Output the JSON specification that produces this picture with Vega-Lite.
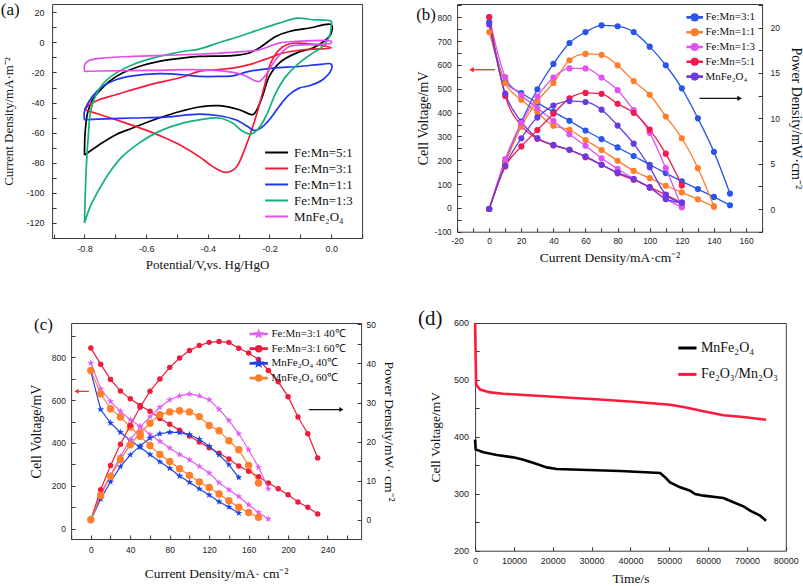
{
"$schema":"https://vega.github.io/schema/vega-lite/v6.json",
"background":"white",
"padding":{"left":0.1,"top":0,"right":0,"bottom":0},
"spacing":319,
"bounds":"flush",
"resolve":{"scale":{"color":"independent","shape":"independent"},"legend":{"color":"independent","shape":"independent"}},
"config":{
 "view":{"stroke":"#3a3a3a","strokeWidth":1},
 "axis":{"domain":false,"grid":false,"ticks":true,"tickColor":"#333","tickSize":-4,"tickWidth":1,"labelFont":"Liberation Sans","labelColor":"#222","titleFont":"Liberation Serif","titleFontWeight":"normal","titleColor":"#111","labelFlush":false,"labelOverlap":false},
 "legend":{"labelFont":"Liberation Serif","labelColor":"#111","padding":0,"rowPadding":0,"labelLimit":300}
},
"datasets":{
"a":[
{"s":"Fe:Mn=5:1","i":1,"E":-0.8,"j":-75},{"s":"Fe:Mn=5:1","i":2,"E":-0.752,"j":-68.1},{"s":"Fe:Mn=5:1","i":3,"E":-0.698,"j":-61.4},{"s":"Fe:Mn=5:1","i":4,"E":-0.644,"j":-57},{"s":"Fe:Mn=5:1","i":5,"E":-0.59,"j":-52.6},{"s":"Fe:Mn=5:1","i":6,"E":-0.536,"j":-48.8},{"s":"Fe:Mn=5:1","i":7,"E":-0.482,"j":-45.5},{"s":"Fe:Mn=5:1","i":8,"E":-0.428,"j":-43},{"s":"Fe:Mn=5:1","i":9,"E":-0.363,"j":-42.1},{"s":"Fe:Mn=5:1","i":10,"E":-0.298,"j":-44.8},{"s":"Fe:Mn=5:1","i":11,"E":-0.255,"j":-48.1},{"s":"Fe:Mn=5:1","i":12,"E":-0.244,"j":-45.9},{"s":"Fe:Mn=5:1","i":13,"E":-0.223,"j":-35.9},{"s":"Fe:Mn=5:1","i":14,"E":-0.201,"j":-22.6},{"s":"Fe:Mn=5:1","i":15,"E":-0.169,"j":-13.7},{"s":"Fe:Mn=5:1","i":16,"E":-0.114,"j":-7.1},{"s":"Fe:Mn=5:1","i":17,"E":-0.06,"j":-3.7},{"s":"Fe:Mn=5:1","i":18,"E":-0.017,"j":1.8},{"s":"Fe:Mn=5:1","i":19,"E":0,"j":6.2},{"s":"Fe:Mn=5:1","i":20,"E":0,"j":11.8},{"s":"Fe:Mn=5:1","i":21,"E":-0.071,"j":9.6},{"s":"Fe:Mn=5:1","i":22,"E":-0.136,"j":7.3},{"s":"Fe:Mn=5:1","i":23,"E":-0.18,"j":4},{"s":"Fe:Mn=5:1","i":24,"E":-0.234,"j":-3.7},{"s":"Fe:Mn=5:1","i":25,"E":-0.266,"j":-7},{"s":"Fe:Mn=5:1","i":26,"E":-0.32,"j":-8.8},{"s":"Fe:Mn=5:1","i":27,"E":-0.428,"j":-9.3},{"s":"Fe:Mn=5:1","i":28,"E":-0.482,"j":-10.4},{"s":"Fe:Mn=5:1","i":29,"E":-0.558,"j":-12.6},{"s":"Fe:Mn=5:1","i":30,"E":-0.623,"j":-16},{"s":"Fe:Mn=5:1","i":31,"E":-0.677,"j":-20.4},{"s":"Fe:Mn=5:1","i":32,"E":-0.72,"j":-26},{"s":"Fe:Mn=5:1","i":33,"E":-0.753,"j":-32.6},{"s":"Fe:Mn=5:1","i":34,"E":-0.774,"j":-38.1},{"s":"Fe:Mn=5:1","i":35,"E":-0.79,"j":-47},{"s":"Fe:Mn=5:1","i":36,"E":-0.798,"j":-60.3},{"s":"Fe:Mn=5:1","i":37,"E":-0.8,"j":-75},
{"s":"Fe:Mn=3:1","i":1,"E":-0.8,"j":-44.8},{"s":"Fe:Mn=3:1","i":2,"E":-0.75,"j":-48},{"s":"Fe:Mn=3:1","i":3,"E":-0.698,"j":-51.5},{"s":"Fe:Mn=3:1","i":4,"E":-0.644,"j":-55.2},{"s":"Fe:Mn=3:1","i":5,"E":-0.59,"j":-59.2},{"s":"Fe:Mn=3:1","i":6,"E":-0.536,"j":-63.8},{"s":"Fe:Mn=3:1","i":7,"E":-0.482,"j":-69.2},{"s":"Fe:Mn=3:1","i":8,"E":-0.428,"j":-76},{"s":"Fe:Mn=3:1","i":9,"E":-0.385,"j":-82.5},{"s":"Fe:Mn=3:1","i":10,"E":-0.342,"j":-86.5},{"s":"Fe:Mn=3:1","i":11,"E":-0.31,"j":-83.6},{"s":"Fe:Mn=3:1","i":12,"E":-0.277,"j":-69.2},{"s":"Fe:Mn=3:1","i":13,"E":-0.244,"j":-49.3},{"s":"Fe:Mn=3:1","i":14,"E":-0.217,"j":-29.3},{"s":"Fe:Mn=3:1","i":15,"E":-0.196,"j":-13.7},{"s":"Fe:Mn=3:1","i":16,"E":-0.169,"j":-4.9},{"s":"Fe:Mn=3:1","i":17,"E":-0.136,"j":-0.9},{"s":"Fe:Mn=3:1","i":18,"E":-0.104,"j":-0.4},{"s":"Fe:Mn=3:1","i":19,"E":-0.05,"j":-1.5},{"s":"Fe:Mn=3:1","i":20,"E":0,"j":-3.7},{"s":"Fe:Mn=3:1","i":21,"E":-0.06,"j":-4.5},{"s":"Fe:Mn=3:1","i":22,"E":-0.104,"j":-5.2},{"s":"Fe:Mn=3:1","i":23,"E":-0.158,"j":-7.1},{"s":"Fe:Mn=3:1","i":24,"E":-0.212,"j":-11.1},{"s":"Fe:Mn=3:1","i":25,"E":-0.266,"j":-14.8},{"s":"Fe:Mn=3:1","i":26,"E":-0.32,"j":-17.1},{"s":"Fe:Mn=3:1","i":27,"E":-0.374,"j":-18.2},{"s":"Fe:Mn=3:1","i":28,"E":-0.428,"j":-19.3},{"s":"Fe:Mn=3:1","i":29,"E":-0.482,"j":-23},{"s":"Fe:Mn=3:1","i":30,"E":-0.59,"j":-28.2},{"s":"Fe:Mn=3:1","i":31,"E":-0.698,"j":-34.8},{"s":"Fe:Mn=3:1","i":32,"E":-0.753,"j":-38.1},{"s":"Fe:Mn=3:1","i":33,"E":-0.785,"j":-41.5},{"s":"Fe:Mn=3:1","i":34,"E":-0.8,"j":-44.8},
{"s":"Fe:Mn=1:1","i":1,"E":-0.8,"j":-51.5},{"s":"Fe:Mn=1:1","i":2,"E":-0.753,"j":-51},{"s":"Fe:Mn=1:1","i":3,"E":-0.644,"j":-50.3},{"s":"Fe:Mn=1:1","i":4,"E":-0.536,"j":-49.7},{"s":"Fe:Mn=1:1","i":5,"E":-0.428,"j":-47.7},{"s":"Fe:Mn=1:1","i":6,"E":-0.363,"j":-48.8},{"s":"Fe:Mn=1:1","i":7,"E":-0.31,"j":-51.5},{"s":"Fe:Mn=1:1","i":8,"E":-0.271,"j":-55.9},{"s":"Fe:Mn=1:1","i":9,"E":-0.25,"j":-58.6},{"s":"Fe:Mn=1:1","i":10,"E":-0.228,"j":-57},{"s":"Fe:Mn=1:1","i":11,"E":-0.201,"j":-51.5},{"s":"Fe:Mn=1:1","i":12,"E":-0.169,"j":-42.6},{"s":"Fe:Mn=1:1","i":13,"E":-0.136,"j":-34.8},{"s":"Fe:Mn=1:1","i":14,"E":-0.104,"j":-30.4},{"s":"Fe:Mn=1:1","i":15,"E":-0.071,"j":-28.8},{"s":"Fe:Mn=1:1","i":16,"E":-0.028,"j":-24.8},{"s":"Fe:Mn=1:1","i":17,"E":0,"j":-18.2},{"s":"Fe:Mn=1:1","i":18,"E":0,"j":-14.4},{"s":"Fe:Mn=1:1","i":19,"E":-0.028,"j":-14.4},{"s":"Fe:Mn=1:1","i":20,"E":-0.104,"j":-16},{"s":"Fe:Mn=1:1","i":21,"E":-0.19,"j":-17.1},{"s":"Fe:Mn=1:1","i":22,"E":-0.266,"j":-19.3},{"s":"Fe:Mn=1:1","i":23,"E":-0.32,"j":-22.2},{"s":"Fe:Mn=1:1","i":24,"E":-0.363,"j":-22.6},{"s":"Fe:Mn=1:1","i":25,"E":-0.428,"j":-22.6},{"s":"Fe:Mn=1:1","i":26,"E":-0.482,"j":-21.5},{"s":"Fe:Mn=1:1","i":27,"E":-0.558,"j":-20.8},{"s":"Fe:Mn=1:1","i":28,"E":-0.644,"j":-22.2},{"s":"Fe:Mn=1:1","i":29,"E":-0.698,"j":-24.8},{"s":"Fe:Mn=1:1","i":30,"E":-0.742,"j":-29.3},{"s":"Fe:Mn=1:1","i":31,"E":-0.774,"j":-35.9},{"s":"Fe:Mn=1:1","i":32,"E":-0.8,"j":-45.9},{"s":"Fe:Mn=1:1","i":33,"E":-0.8,"j":-51.5},
{"s":"Fe:Mn=1:3","i":1,"E":-0.8,"j":-120.2},{"s":"Fe:Mn=1:3","i":2,"E":-0.798,"j":-104.7},{"s":"Fe:Mn=1:3","i":3,"E":-0.794,"j":-82.5},{"s":"Fe:Mn=1:3","i":4,"E":-0.787,"j":-60.3},{"s":"Fe:Mn=1:3","i":5,"E":-0.781,"j":-47},{"s":"Fe:Mn=1:3","i":6,"E":-0.765,"j":-35.9},{"s":"Fe:Mn=1:3","i":7,"E":-0.738,"j":-27},{"s":"Fe:Mn=1:3","i":8,"E":-0.698,"j":-20.4},{"s":"Fe:Mn=1:3","i":9,"E":-0.644,"j":-14.8},{"s":"Fe:Mn=1:3","i":10,"E":-0.558,"j":-9.3},{"s":"Fe:Mn=1:3","i":11,"E":-0.482,"j":-6},{"s":"Fe:Mn=1:3","i":12,"E":-0.428,"j":-4.4},{"s":"Fe:Mn=1:3","i":13,"E":-0.363,"j":0},{"s":"Fe:Mn=1:3","i":14,"E":-0.298,"j":4},{"s":"Fe:Mn=1:3","i":15,"E":-0.234,"j":8.5},{"s":"Fe:Mn=1:3","i":16,"E":-0.169,"j":12.9},{"s":"Fe:Mn=1:3","i":17,"E":-0.109,"j":16.2},{"s":"Fe:Mn=1:3","i":18,"E":-0.06,"j":15.1},{"s":"Fe:Mn=1:3","i":19,"E":0,"j":14},{"s":"Fe:Mn=1:3","i":20,"E":0,"j":10.7},{"s":"Fe:Mn=1:3","i":21,"E":-0.006,"j":4},{"s":"Fe:Mn=1:3","i":22,"E":-0.028,"j":-2.7},{"s":"Fe:Mn=1:3","i":23,"E":-0.06,"j":-7.1},{"s":"Fe:Mn=1:3","i":24,"E":-0.104,"j":-13.7},{"s":"Fe:Mn=1:3","i":25,"E":-0.147,"j":-22.6},{"s":"Fe:Mn=1:3","i":26,"E":-0.18,"j":-33.7},{"s":"Fe:Mn=1:3","i":27,"E":-0.212,"j":-49.3},{"s":"Fe:Mn=1:3","i":28,"E":-0.239,"j":-58.1},{"s":"Fe:Mn=1:3","i":29,"E":-0.26,"j":-61},{"s":"Fe:Mn=1:3","i":30,"E":-0.287,"j":-59.2},{"s":"Fe:Mn=1:3","i":31,"E":-0.32,"j":-53.7},{"s":"Fe:Mn=1:3","i":32,"E":-0.363,"j":-50.3},{"s":"Fe:Mn=1:3","i":33,"E":-0.428,"j":-51.5},{"s":"Fe:Mn=1:3","i":34,"E":-0.482,"j":-53.7},{"s":"Fe:Mn=1:3","i":35,"E":-0.558,"j":-59.2},{"s":"Fe:Mn=1:3","i":36,"E":-0.623,"j":-67},{"s":"Fe:Mn=1:3","i":37,"E":-0.677,"j":-75.9},{"s":"Fe:Mn=1:3","i":38,"E":-0.72,"j":-86.9},{"s":"Fe:Mn=1:3","i":39,"E":-0.753,"j":-98},{"s":"Fe:Mn=1:3","i":40,"E":-0.781,"j":-109.2},{"s":"Fe:Mn=1:3","i":41,"E":-0.8,"j":-120.2},
{"s":"MnFe₂O₄","i":1,"E":-0.8,"j":-19.3},{"s":"MnFe₂O₄","i":2,"E":-0.799,"j":-14.8},{"s":"MnFe₂O₄","i":3,"E":-0.785,"j":-12},{"s":"MnFe₂O₄","i":4,"E":-0.742,"j":-10.4},{"s":"MnFe₂O₄","i":5,"E":-0.644,"j":-9.3},{"s":"MnFe₂O₄","i":6,"E":-0.482,"j":-8.2},{"s":"MnFe₂O₄","i":7,"E":-0.396,"j":-7.5},{"s":"MnFe₂O₄","i":8,"E":-0.32,"j":-6.6},{"s":"MnFe₂O₄","i":9,"E":-0.234,"j":-4.9},{"s":"MnFe₂O₄","i":10,"E":-0.169,"j":-0.4},{"s":"MnFe₂O₄","i":11,"E":-0.114,"j":0.7},{"s":"MnFe₂O₄","i":12,"E":0,"j":0.7},{"s":"MnFe₂O₄","i":13,"E":0,"j":-0.4},{"s":"MnFe₂O₄","i":14,"E":-0.071,"j":-1.5},{"s":"MnFe₂O₄","i":15,"E":-0.136,"j":-2.7},{"s":"MnFe₂O₄","i":16,"E":-0.18,"j":-11.5},{"s":"MnFe₂O₄","i":17,"E":-0.212,"j":-21.5},{"s":"MnFe₂O₄","i":18,"E":-0.234,"j":-26},{"s":"MnFe₂O₄","i":19,"E":-0.255,"j":-24.8},{"s":"MnFe₂O₄","i":20,"E":-0.287,"j":-21.5},{"s":"MnFe₂O₄","i":21,"E":-0.342,"j":-19.3},{"s":"MnFe₂O₄","i":22,"E":-0.428,"j":-18.2},{"s":"MnFe₂O₄","i":23,"E":-0.59,"j":-18.6},{"s":"MnFe₂O₄","i":24,"E":-0.753,"j":-19},{"s":"MnFe₂O₄","i":25,"E":-0.8,"j":-19.3}
],
"b":[
{"s":"Fe:Mn=3:1","x":0,"V":780,"P":0},{"s":"Fe:Mn=3:1","x":10,"V":530,"P":5.2},{"s":"Fe:Mn=3:1","x":20,"V":482,"P":9.6},{"s":"Fe:Mn=3:1","x":30,"V":441,"P":13.2},{"s":"Fe:Mn=3:1","x":40,"V":403,"P":16.0},{"s":"Fe:Mn=3:1","x":50,"V":366,"P":18.3},{"s":"Fe:Mn=3:1","x":60,"V":325,"P":19.5},{"s":"Fe:Mn=3:1","x":70,"V":289,"P":20.25},{"s":"Fe:Mn=3:1","x":80,"V":254,"P":20.15},{"s":"Fe:Mn=3:1","x":90,"V":218,"P":19.5},{"s":"Fe:Mn=3:1","x":100,"V":181,"P":17.9},{"s":"Fe:Mn=3:1","x":110,"V":146,"P":15.85},{"s":"Fe:Mn=3:1","x":120,"V":111,"P":13.3},{"s":"Fe:Mn=3:1","x":130,"V":79,"P":10.0},{"s":"Fe:Mn=3:1","x":140,"V":46,"P":6.3},{"s":"Fe:Mn=3:1","x":150,"V":11,"P":1.7},
{"s":"Fe:Mn=1:1","x":0,"V":738,"P":0},{"s":"Fe:Mn=1:1","x":10,"V":524,"P":5.0},{"s":"Fe:Mn=1:1","x":20,"V":454,"P":9.1},{"s":"Fe:Mn=1:1","x":30,"V":400,"P":11.9},{"s":"Fe:Mn=1:1","x":40,"V":345,"P":13.9},{"s":"Fe:Mn=1:1","x":50,"V":328,"P":16.4},{"s":"Fe:Mn=1:1","x":60,"V":285,"P":17.1},{"s":"Fe:Mn=1:1","x":70,"V":243,"P":17.0},{"s":"Fe:Mn=1:1","x":80,"V":198,"P":15.85},{"s":"Fe:Mn=1:1","x":90,"V":156,"P":14.1},{"s":"Fe:Mn=1:1","x":100,"V":125,"P":12.6},{"s":"Fe:Mn=1:1","x":110,"V":93,"P":10.2},{"s":"Fe:Mn=1:1","x":120,"V":65,"P":7.8},{"s":"Fe:Mn=1:1","x":130,"V":36,"P":4.5},{"s":"Fe:Mn=1:1","x":140,"V":5,"P":0.3},
{"s":"Fe:Mn=1:3","x":0,"V":801,"P":0},{"s":"Fe:Mn=1:3","x":10,"V":549,"P":5.5},{"s":"Fe:Mn=1:3","x":20,"V":474,"P":9.5},{"s":"Fe:Mn=1:3","x":30,"V":419,"P":12.4},{"s":"Fe:Mn=1:3","x":40,"V":365,"P":14.5},{"s":"Fe:Mn=1:3","x":50,"V":309,"P":15.5},{"s":"Fe:Mn=1:3","x":60,"V":261,"P":15.5},{"s":"Fe:Mn=1:3","x":70,"V":208,"P":14.5},{"s":"Fe:Mn=1:3","x":80,"V":164,"P":13.1},{"s":"Fe:Mn=1:3","x":90,"V":122,"P":10.9},{"s":"Fe:Mn=1:3","x":100,"V":85,"P":8.4},{"s":"Fe:Mn=1:3","x":110,"V":38,"P":4.5},{"s":"Fe:Mn=1:3","x":120,"V":4,"P":0.2},
{"s":"Fe:Mn=5:1","x":0,"V":801,"P":0},{"s":"Fe:Mn=5:1","x":10,"V":470,"P":4.7},{"s":"Fe:Mn=5:1","x":20,"V":345,"P":6.9},{"s":"Fe:Mn=5:1","x":30,"V":290,"P":8.7},{"s":"Fe:Mn=5:1","x":40,"V":262,"P":10.5},{"s":"Fe:Mn=5:1","x":50,"V":244,"P":12.2},{"s":"Fe:Mn=5:1","x":60,"V":213,"P":12.8},{"s":"Fe:Mn=5:1","x":70,"V":181,"P":12.7},{"s":"Fe:Mn=5:1","x":80,"V":145,"P":11.6},{"s":"Fe:Mn=5:1","x":90,"V":118,"P":10.6},{"s":"Fe:Mn=5:1","x":100,"V":87,"P":8.75},{"s":"Fe:Mn=5:1","x":110,"V":55,"P":6.1},{"s":"Fe:Mn=5:1","x":120,"V":21,"P":2.6},
{"s":"MnFe₂O₄","x":0,"V":770,"P":0},{"s":"MnFe₂O₄","x":10,"V":480,"P":4.8},{"s":"MnFe₂O₄","x":20,"V":362,"P":7.8},{"s":"MnFe₂O₄","x":30,"V":293,"P":10.1},{"s":"MnFe₂O₄","x":40,"V":265,"P":11.4},{"s":"MnFe₂O₄","x":50,"V":244,"P":11.9},{"s":"MnFe₂O₄","x":60,"V":216,"P":11.8},{"s":"MnFe₂O₄","x":70,"V":181,"P":10.95},{"s":"MnFe₂O₄","x":80,"V":148,"P":9.2},{"s":"MnFe₂O₄","x":90,"V":121,"P":7.2},{"s":"MnFe₂O₄","x":100,"V":86,"P":4.6},{"s":"MnFe₂O₄","x":110,"V":37,"P":1.6},{"s":"MnFe₂O₄","x":120,"V":22,"P":0.7}
],
"c":[
{"s":"Fe:Mn=3:1 40℃","x":0,"V":773,"P":0},{"s":"Fe:Mn=3:1 40℃","x":10,"V":652,"P":6.7},{"s":"Fe:Mn=3:1 40℃","x":20,"V":594,"P":11.4},{"s":"Fe:Mn=3:1 40℃","x":30,"V":548,"P":16.2},{"s":"Fe:Mn=3:1 40℃","x":40,"V":509,"P":20.5},{"s":"Fe:Mn=3:1 40℃","x":50,"V":478,"P":23.7},{"s":"Fe:Mn=3:1 40℃","x":60,"V":440,"P":26.4},{"s":"Fe:Mn=3:1 40℃","x":70,"V":408,"P":28.8},{"s":"Fe:Mn=3:1 40℃","x":80,"V":377,"P":30.7},{"s":"Fe:Mn=3:1 40℃","x":90,"V":346,"P":31.7},{"s":"Fe:Mn=3:1 40℃","x":100,"V":322,"P":32.2},{"s":"Fe:Mn=3:1 40℃","x":110,"V":291,"P":31.7},{"s":"Fe:Mn=3:1 40℃","x":120,"V":260,"P":30.7},{"s":"Fe:Mn=3:1 40℃","x":130,"V":215,"P":28.3},{"s":"Fe:Mn=3:1 40℃","x":140,"V":182,"P":25.4},{"s":"Fe:Mn=3:1 40℃","x":150,"V":150,"P":22.0},{"s":"Fe:Mn=3:1 40℃","x":160,"V":112,"P":17.9},{"s":"Fe:Mn=3:1 40℃","x":170,"V":76,"P":13.4},{"s":"Fe:Mn=3:1 40℃","x":180,"V":45,"P":7.9},
{"s":"Fe:Mn=3:1 60℃","x":0,"V":843,"P":0},{"s":"Fe:Mn=3:1 60℃","x":10,"V":768,"P":7.7},{"s":"Fe:Mn=3:1 60℃","x":20,"V":696,"P":13.9},{"s":"Fe:Mn=3:1 60℃","x":30,"V":643,"P":19.3},{"s":"Fe:Mn=3:1 60℃","x":40,"V":606,"P":24.2},{"s":"Fe:Mn=3:1 60℃","x":50,"V":575,"P":28.8},{"s":"Fe:Mn=3:1 60℃","x":60,"V":548,"P":32.9},{"s":"Fe:Mn=3:1 60℃","x":70,"V":514,"P":36.0},{"s":"Fe:Mn=3:1 60℃","x":80,"V":487,"P":39.0},{"s":"Fe:Mn=3:1 60℃","x":90,"V":460,"P":41.4},{"s":"Fe:Mn=3:1 60℃","x":100,"V":433,"P":43.3},{"s":"Fe:Mn=3:1 60℃","x":110,"V":405,"P":44.6},{"s":"Fe:Mn=3:1 60℃","x":120,"V":378,"P":45.4},{"s":"Fe:Mn=3:1 60℃","x":130,"V":352,"P":45.6},{"s":"Fe:Mn=3:1 60℃","x":140,"V":325,"P":45.4},{"s":"Fe:Mn=3:1 60℃","x":150,"V":293,"P":43.9},{"s":"Fe:Mn=3:1 60℃","x":160,"V":268,"P":42.7},{"s":"Fe:Mn=3:1 60℃","x":170,"V":243,"P":41.0},{"s":"Fe:Mn=3:1 60℃","x":180,"V":213,"P":38.2},{"s":"Fe:Mn=3:1 60℃","x":190,"V":186,"P":35.3},{"s":"Fe:Mn=3:1 60℃","x":200,"V":158,"P":31.5},{"s":"Fe:Mn=3:1 60℃","x":210,"V":125,"P":26.3},{"s":"Fe:Mn=3:1 60℃","x":220,"V":100,"P":22.0},{"s":"Fe:Mn=3:1 60℃","x":230,"V":69,"P":15.8},
{"s":"MnFe₂O₄ 40℃","x":0,"V":733,"P":0},{"s":"MnFe₂O₄ 40℃","x":10,"V":556,"P":5.3},{"s":"MnFe₂O₄ 40℃","x":20,"V":493,"P":9.7},{"s":"MnFe₂O₄ 40℃","x":30,"V":450,"P":13.6},{"s":"MnFe₂O₄ 40℃","x":40,"V":412,"P":16.6},{"s":"MnFe₂O₄ 40℃","x":50,"V":380,"P":18.9},{"s":"MnFe₂O₄ 40℃","x":60,"V":346,"P":20.9},{"s":"MnFe₂O₄ 40℃","x":70,"V":312,"P":22.0},{"s":"MnFe₂O₄ 40℃","x":80,"V":282,"P":22.4},{"s":"MnFe₂O₄ 40℃","x":90,"V":246,"P":22.3},{"s":"MnFe₂O₄ 40℃","x":100,"V":217,"P":21.8},{"s":"MnFe₂O₄ 40℃","x":110,"V":186,"P":20.6},{"s":"MnFe₂O₄ 40℃","x":120,"V":157,"P":18.8},{"s":"MnFe₂O₄ 40℃","x":130,"V":126,"P":16.6},{"s":"MnFe₂O₄ 40℃","x":140,"V":101,"P":14.1},{"s":"MnFe₂O₄ 40℃","x":150,"V":73,"P":10.8},
{"s":"MnFe₂O₄ 60℃","x":0,"V":739,"P":0},{"s":"MnFe₂O₄ 60℃","x":10,"V":630,"P":6.2},{"s":"MnFe₂O₄ 60℃","x":20,"V":560,"P":11.1},{"s":"MnFe₂O₄ 60℃","x":30,"V":521,"P":15.4},{"s":"MnFe₂O₄ 60℃","x":40,"V":475,"P":19.2},{"s":"MnFe₂O₄ 60℃","x":50,"V":431,"P":22.2},{"s":"MnFe₂O₄ 60℃","x":60,"V":388,"P":24.7},{"s":"MnFe₂O₄ 60℃","x":70,"V":346,"P":26.9},{"s":"MnFe₂O₄ 60℃","x":80,"V":314,"P":27.6},{"s":"MnFe₂O₄ 60℃","x":90,"V":280,"P":27.9},{"s":"MnFe₂O₄ 60℃","x":100,"V":249,"P":27.6},{"s":"MnFe₂O₄ 60℃","x":110,"V":218,"P":26.4},{"s":"MnFe₂O₄ 60℃","x":120,"V":192,"P":24.1},{"s":"MnFe₂O₄ 60℃","x":130,"V":162,"P":22.8},{"s":"MnFe₂O₄ 60℃","x":140,"V":131,"P":20.2},{"s":"MnFe₂O₄ 60℃","x":150,"V":100,"P":17.9},{"s":"MnFe₂O₄ 60℃","x":160,"V":76,"P":13.9},{"s":"MnFe₂O₄ 60℃","x":170,"V":53,"P":9.4}
],
"d":[
{"s":"Fe₂O₃/Mn₂O₃","t":0,"V":600},{"s":"Fe₂O₃/Mn₂O₃","t":260,"V":492},{"s":"Fe₂O₃/Mn₂O₃","t":1287,"V":483},{"s":"Fe₂O₃/Mn₂O₃","t":3862,"V":478.1},{"s":"Fe₂O₃/Mn₂O₃","t":7296,"V":475.8},{"s":"Fe₂O₃/Mn₂O₃","t":15880,"V":472.3},{"s":"Fe₂O₃/Mn₂O₃","t":24463,"V":468.8},{"s":"Fe₂O₃/Mn₂O₃","t":33046,"V":465.3},{"s":"Fe₂O₃/Mn₂O₃","t":41630,"V":461.2},{"s":"Fe₂O₃/Mn₂O₃","t":50213,"V":456.5},{"s":"Fe₂O₃/Mn₂O₃","t":53647,"V":452.4},{"s":"Fe₂O₃/Mn₂O₃","t":58797,"V":444.8},{"s":"Fe₂O₃/Mn₂O₃","t":63947,"V":437.8},{"s":"Fe₂O₃/Mn₂O₃","t":69097,"V":434.8},{"s":"Fe₂O₃/Mn₂O₃","t":74934,"V":430.1},
{"s":"MnFe₂O₄","t":0,"V":395},{"s":"MnFe₂O₄","t":150,"V":378},{"s":"MnFe₂O₄","t":2146,"V":372.8},{"s":"MnFe₂O₄","t":5579,"V":368.1},{"s":"MnFe₂O₄","t":9871,"V":364},{"s":"MnFe₂O₄","t":12446,"V":359.9},{"s":"MnFe₂O₄","t":15880,"V":352.3},{"s":"MnFe₂O₄","t":18455,"V":346.4},{"s":"MnFe₂O₄","t":21030,"V":343.5},{"s":"MnFe₂O₄","t":27038,"V":342.3},{"s":"MnFe₂O₄","t":37338,"V":340},{"s":"MnFe₂O₄","t":47638,"V":336.5},{"s":"MnFe₂O₄","t":48925,"V":328.9},{"s":"MnFe₂O₄","t":50213,"V":320.1},{"s":"MnFe₂O₄","t":52788,"V":311.3},{"s":"MnFe₂O₄","t":55363,"V":305.5},{"s":"MnFe₂O₄","t":56650,"V":299.6},{"s":"MnFe₂O₄","t":58796,"V":296.7},{"s":"MnFe₂O₄","t":63947,"V":292.6},{"s":"MnFe₂O₄","t":66521,"V":285},{"s":"MnFe₂O₄","t":69097,"V":278},{"s":"MnFe₂O₄","t":70813,"V":270.4},{"s":"MnFe₂O₄","t":73388,"V":261.6},{"s":"MnFe₂O₄","t":74934,"V":252.8}
]
},
"vconcat":[
{"spacing":0,"bounds":"flush","resolve":{"scale":{"color":"independent","shape":"independent"},"legend":{"color":"independent","shape":"independent"}},
 "hconcat":[
{
 "name":"pa","width":310,"height":234,
 "title":{"text":"(a)","anchor":"start","frame":"group","offset":0,"dx":-51.3,"dy":15.3,"baseline":"top","fontSize":17,"font":"Liberation Serif","fontWeight":"normal","color":"#111"},
 "data":{"name":"a"},
 "mark":{"type":"line","interpolate":"catmull-rom","strokeWidth":1.7,"clip":true},
 "encoding":{
  "x":{"field":"E","type":"quantitative","scale":{"domain":[-0.905,0.1],"nice":false,"zero":false},"axis":{"title":"Potential/V,vs. Hg/HgO","values":[-0.9,-0.8,-0.7,-0.6,-0.5,-0.4,-0.3,-0.2,-0.1,0,0.1],"format":".1f","labelExpr":"abs(round(datum.value*10))%2==0 ? replace(datum.label,'−','-') : ''","labelFontSize":9,"labelPadding":10,"titleFontSize":13,"titlePadding":5}},
  "y":{"field":"j","type":"quantitative","scale":{"domain":[-130.2,25.6],"nice":false,"zero":false},"axis":{"title":"Current Density/mA·m⁻²","values":[-130,-120,-110,-100,-90,-80,-70,-60,-50,-40,-30,-20,-10,0,10,20],"labelExpr":"datum.value%20==0 ? replace(datum.label,'−','-') : ''","labelFontSize":9,"labelPadding":12,"titleFontSize":13,"titlePadding":11}},
  "color":{"field":"s","type":"nominal","scale":{"domain":["Fe:Mn=5:1","Fe:Mn=3:1","Fe:Mn=1:1","Fe:Mn=1:3","MnFe₂O₄"],"range":["#000000","#f41a3a","#1f35f0","#13b07a","#e24fec"]},"legend":{"orient":"none","legendX":216,"legendY":140,"title":null,"symbolType":"M-1.53,0H1.53","symbolSize":225,"symbolStrokeWidth":2,"labelFontSize":13,"labelOffset":9,"rowPadding":-1.75}},
  "order":{"field":"i","type":"quantitative"}
 }
},
{"width":94.6,"height":1,"data":{"values":[{"u":0}]},"mark":{"type":"point","opacity":0},"encoding":{},"view":{"stroke":null}},
{
 "name":"pb","width":305,"height":227.7,
 "title":{"text":"(b)","anchor":"start","frame":"group","offset":0,"dx":-40.9,"dy":23.4,"baseline":"top","fontSize":17,"font":"Liberation Serif","fontWeight":"normal","color":"#111"},
 "data":{"name":"b"},
 "encoding":{"x":{"field":"x","type":"quantitative","scale":{"domain":[-20,170],"nice":false,"zero":false},"axis":{"title":"Current Density/mA·cm⁻²","values":[-20,-10,0,10,20,30,40,50,60,70,80,90,100,110,120,130,140,150,160,170],"labelExpr":"datum.value%20==0 ? replace(datum.label,'−','-') : ''","labelFontSize":8.5,"labelPadding":9,"titleFontSize":13.5,"titlePadding":5}}},
 "layer":[
  {"encoding":{"y":{"field":"V","type":"quantitative","scale":{"domain":[-100,856],"nice":false,"zero":false},"axis":{"title":"Cell Voltage/mV","orient":"left","values":[-100,-50,0,50,100,150,200,250,300,350,400,450,500,550,600,650,700,750,800,850],"labelExpr":"datum.value%100==0 ? replace(datum.label,'−','-') : ''","labelFontSize":8.5,"labelPadding":10,"titleFontSize":14,"titlePadding":4}}},
   "layer":[
    {"transform":[{"filter":"datum.x < -999"}],"mark":{"type":"point","filled":true,"opacity":1},"encoding":{"color":{"field":"s","type":"nominal","scale":{"domain":["Fe:Mn=3:1","Fe:Mn=1:1","Fe:Mn=1:3","Fe:Mn=5:1","MnFe₂O₄"],"range":["#2a56e8","#ff7c2b","#e052f0","#f01a4c","#6a3ae0"]},"legend":{"orient":"none","legendX":230.6,"legendY":6.4,"title":null,"symbolType":"M-1.25,-0.09H1.25V0.09H-1.25Z M-0.55,0A0.55,0.55 0 1,1 0.55,0A0.55,0.55 0 1,1 -0.55,0Z","symbolSize":144,"labelFontSize":11,"labelOffset":3.8,"rowPadding":0.8}}}},
    {"mark":{"type":"line","interpolate":"monotone","strokeWidth":1.3},"encoding":{"color":{"field":"s","type":"nominal","scale":{"domain":["Fe:Mn=3:1","Fe:Mn=1:1","Fe:Mn=1:3","Fe:Mn=5:1","MnFe₂O₄"],"range":["#2a56e8","#ff7c2b","#e052f0","#f01a4c","#6a3ae0"]}}}},
    {"mark":{"type":"point","filled":true,"size":38,"opacity":1},"encoding":{"color":{"field":"s","type":"nominal","scale":{"domain":["Fe:Mn=3:1","Fe:Mn=1:1","Fe:Mn=1:3","Fe:Mn=5:1","MnFe₂O₄"],"range":["#2a56e8","#ff7c2b","#e052f0","#f01a4c","#6a3ae0"]}}}},
    {"data":{"values":[{"x":-11,"x2":3.5,"V":580}]},"mark":{"type":"rule","color":"#ee2a2a","strokeWidth":1.3},"encoding":{"x2":{"field":"x2"}}},
    {"data":{"values":[{"x":-11,"x2":3.5,"V":580}]},"mark":{"type":"point","shape":"triangle-left","filled":true,"size":28,"color":"#ee2a2a","opacity":1},"encoding":{}}
   ]},
  {"encoding":{"y":{"field":"P","type":"quantitative","scale":{"domain":[-2.5,22.6],"nice":false,"zero":false},"axis":{"title":"Power Density/mW·cm⁻²","orient":"right","values":[-2.5,0,2.5,5,7.5,10,12.5,15,17.5,20,22.5],"labelExpr":"datum.value%5==0 ? datum.label : ''","labelFontSize":8.5,"labelPadding":12,"titleFontSize":14,"titlePadding":9}}},
   "layer":[
    {"mark":{"type":"line","interpolate":"monotone","strokeWidth":1.3},"encoding":{"color":{"field":"s","type":"nominal","scale":{"domain":["Fe:Mn=3:1","Fe:Mn=1:1","Fe:Mn=1:3","Fe:Mn=5:1","MnFe₂O₄"],"range":["#2a56e8","#ff7c2b","#e052f0","#f01a4c","#6a3ae0"]}}}},
    {"mark":{"type":"point","filled":true,"size":38,"opacity":1},"encoding":{"color":{"field":"s","type":"nominal","scale":{"domain":["Fe:Mn=3:1","Fe:Mn=1:1","Fe:Mn=1:3","Fe:Mn=5:1","MnFe₂O₄"],"range":["#2a56e8","#ff7c2b","#e052f0","#f01a4c","#6a3ae0"]}}}},
    {"data":{"values":[{"x":156,"x2":131,"P":12.2}]},"mark":{"type":"rule","color":"#111","strokeWidth":1.3},"encoding":{"x2":{"field":"x2"}}},
    {"data":{"values":[{"x":156,"x2":131,"P":12.2}]},"mark":{"type":"point","shape":"triangle-right","filled":true,"size":28,"color":"#111","opacity":1},"encoding":{}}
   ]}
 ],
 "resolve":{"scale":{"y":"independent"}}
}
 ]},
{"spacing":0,"bounds":"flush","resolve":{"scale":{"color":"independent","shape":"independent"},"legend":{"color":"independent","shape":"independent"}},
 "hconcat":[
{"width":18.7,"height":1,"data":{"values":[{"u":0}]},"mark":{"type":"point","opacity":0},"encoding":{},"view":{"stroke":null}},
{
 "name":"pc","width":290,"height":216,
 "title":{"text":"(c)","anchor":"start","frame":"group","offset":0,"dx":-37,"dy":14,"baseline":"top","fontSize":17,"font":"Liberation Serif","fontWeight":"normal","color":"#111"},
 "data":{"name":"c"},
 "encoding":{"x":{"field":"x","type":"quantitative","scale":{"domain":[-20,274],"nice":false,"zero":false},"axis":{"title":"Current Density/mA· cm⁻²","values":[-20,0,20,40,60,80,100,120,140,160,180,200,220,240,260],"labelExpr":"datum.value%40==0 ? datum.label : ''","labelFontSize":8.5,"labelPadding":10.7,"titleFontSize":13.5,"titlePadding":12}}},
 "layer":[
  {"encoding":{"y":{"field":"V","type":"quantitative","scale":{"domain":[-48,960],"nice":false,"zero":false},"axis":{"title":"Cell Voltage/mV","orient":"left","values":[0,100,200,300,400,500,600,700,800,900],"labelExpr":"datum.value%200==0 ? datum.label : ''","labelFontSize":8.5,"labelPadding":9.7,"titleFontSize":14,"titlePadding":8}}},
   "layer":[
    {"transform":[{"filter":"datum.x < -999"}],"mark":{"type":"point","filled":true,"opacity":1},"encoding":{
      "color":{"field":"s","type":"nominal","scale":{"domain":["Fe:Mn=3:1 40℃","Fe:Mn=3:1 60℃","MnFe₂O₄ 40℃","MnFe₂O₄ 60℃"],"range":["#e060f0","#ee1c3c","#1e44e6","#ff7f2a"]},"legend":{"orient":"none","legendX":180.6,"legendY":4,"title":null,"symbolSize":144,"labelFontSize":11,"labelOffset":5.7,"rowPadding":1.7}},
      "shape":{"field":"s","type":"nominal","scale":{"domain":["Fe:Mn=3:1 40℃","Fe:Mn=3:1 60℃","MnFe₂O₄ 40℃","MnFe₂O₄ 60℃"],"range":["M-1.4,-0.1H1.4V0.1H-1.4Z M0,-0.58L0.136,-0.188L0.552,-0.179L0.22,0.072L0.341,0.469L0,0.232L-0.341,0.469L-0.22,0.072L-0.552,-0.179L-0.136,-0.188Z","M-1.4,-0.1H1.4V0.1H-1.4Z M-0.5,0A0.5,0.5 0 1,1 0.5,0A0.5,0.5 0 1,1 -0.5,0Z","M-1.4,-0.1H1.4V0.1H-1.4Z M0,-0.58L0.136,-0.188L0.552,-0.179L0.22,0.072L0.341,0.469L0,0.232L-0.341,0.469L-0.22,0.072L-0.552,-0.179L-0.136,-0.188Z","M-1.4,-0.1H1.4V0.1H-1.4Z M-0.5,0A0.5,0.5 0 1,1 0.5,0A0.5,0.5 0 1,1 -0.5,0Z"]},"legend":{"orient":"none","legendX":180.6,"legendY":4,"title":null,"symbolSize":144,"labelFontSize":11,"labelOffset":5.7,"rowPadding":1.7}}}},
    {"mark":{"type":"line","strokeWidth":1.2},"encoding":{"color":{"field":"s","type":"nominal","scale":{"domain":["Fe:Mn=3:1 40℃","Fe:Mn=3:1 60℃","MnFe₂O₄ 40℃","MnFe₂O₄ 60℃"],"range":["#e060f0","#ee1c3c","#1e44e6","#ff7f2a"]}}}},
    {"transform":[{"filter":"indexof(datum.s,'40℃')>=0"}],"mark":{"type":"point","filled":true,"opacity":1,"size":55,"shape":"M0,-1L0.235,-0.324L0.951,-0.309L0.38,0.124L0.588,0.809L0,0.4L-0.588,0.809L-0.38,0.124L-0.951,-0.309L-0.235,-0.324Z"},"encoding":{"color":{"field":"s","type":"nominal","scale":{"domain":["Fe:Mn=3:1 40℃","Fe:Mn=3:1 60℃","MnFe₂O₄ 40℃","MnFe₂O₄ 60℃"],"range":["#e060f0","#ee1c3c","#1e44e6","#ff7f2a"]}}}},
    {"transform":[{"filter":"datum.s=='Fe:Mn=3:1 60℃'"}],"mark":{"type":"point","filled":true,"opacity":1,"size":30},"encoding":{"color":{"field":"s","type":"nominal","scale":{"domain":["Fe:Mn=3:1 40℃","Fe:Mn=3:1 60℃","MnFe₂O₄ 40℃","MnFe₂O₄ 60℃"],"range":["#e060f0","#ee1c3c","#1e44e6","#ff7f2a"]}}}},
    {"transform":[{"filter":"datum.s=='MnFe₂O₄ 60℃'"}],"mark":{"type":"point","filled":true,"opacity":1,"size":55},"encoding":{"color":{"field":"s","type":"nominal","scale":{"domain":["Fe:Mn=3:1 40℃","Fe:Mn=3:1 60℃","MnFe₂O₄ 40℃","MnFe₂O₄ 60℃"],"range":["#e060f0","#ee1c3c","#1e44e6","#ff7f2a"]}}}},
    {"data":{"values":[{"x":-14.5,"x2":-2,"V":641}]},"mark":{"type":"rule","color":"#ee2a2a","strokeWidth":1.2},"encoding":{"x2":{"field":"x2"}}},
    {"data":{"values":[{"x":-14.5,"x2":-2,"V":641}]},"mark":{"type":"point","shape":"triangle-left","filled":true,"size":24,"color":"#ee2a2a","opacity":1},"encoding":{}}
   ]},
  {"encoding":{"y":{"field":"P","type":"quantitative","scale":{"domain":[-4.94,50.36],"nice":false,"zero":false},"axis":{"title":"Power Density/mW· cm⁻²","orient":"right","values":[0,5,10,15,20,25,30,35,40,45,50],"labelExpr":"datum.value%10==0 ? datum.label : ''","labelFontSize":8.5,"labelPadding":9,"titleFontSize":13.5,"titlePadding":5.5}}},
   "layer":[
    {"mark":{"type":"line","strokeWidth":1.2},"encoding":{"color":{"field":"s","type":"nominal","scale":{"domain":["Fe:Mn=3:1 40℃","Fe:Mn=3:1 60℃","MnFe₂O₄ 40℃","MnFe₂O₄ 60℃"],"range":["#e060f0","#ee1c3c","#1e44e6","#ff7f2a"]}}}},
    {"transform":[{"filter":"indexof(datum.s,'40℃')>=0"}],"mark":{"type":"point","filled":true,"opacity":1,"size":55,"shape":"M0,-1L0.235,-0.324L0.951,-0.309L0.38,0.124L0.588,0.809L0,0.4L-0.588,0.809L-0.38,0.124L-0.951,-0.309L-0.235,-0.324Z"},"encoding":{"color":{"field":"s","type":"nominal","scale":{"domain":["Fe:Mn=3:1 40℃","Fe:Mn=3:1 60℃","MnFe₂O₄ 40℃","MnFe₂O₄ 60℃"],"range":["#e060f0","#ee1c3c","#1e44e6","#ff7f2a"]}}}},
    {"transform":[{"filter":"datum.s=='Fe:Mn=3:1 60℃'"}],"mark":{"type":"point","filled":true,"opacity":1,"size":30},"encoding":{"color":{"field":"s","type":"nominal","scale":{"domain":["Fe:Mn=3:1 40℃","Fe:Mn=3:1 60℃","MnFe₂O₄ 40℃","MnFe₂O₄ 60℃"],"range":["#e060f0","#ee1c3c","#1e44e6","#ff7f2a"]}}}},
    {"transform":[{"filter":"datum.s=='MnFe₂O₄ 60℃'"}],"mark":{"type":"point","filled":true,"opacity":1,"size":55},"encoding":{"color":{"field":"s","type":"nominal","scale":{"domain":["Fe:Mn=3:1 40℃","Fe:Mn=3:1 60℃","MnFe₂O₄ 40℃","MnFe₂O₄ 60℃"],"range":["#e060f0","#ee1c3c","#1e44e6","#ff7f2a"]}}}},
    {"data":{"values":[{"x":254,"x2":221,"P":28.2}]},"mark":{"type":"rule","color":"#111","strokeWidth":1.2},"encoding":{"x2":{"field":"x2"}}},
    {"data":{"values":[{"x":254,"x2":221,"P":28.2}]},"mark":{"type":"point","shape":"triangle-right","filled":true,"size":24,"color":"#111","opacity":1},"encoding":{}}
   ]}
 ],
 "resolve":{"scale":{"y":"independent"}}
},
{"width":113.3,"height":1,"data":{"values":[{"u":0}]},"mark":{"type":"point","opacity":0},"encoding":{},"view":{"stroke":null}},
{
 "name":"pd","width":310.7,"height":227.7,
 "title":{"text":"(d)","anchor":"start","frame":"group","offset":0,"dx":-57,"dy":11.2,"baseline":"top","fontSize":21,"font":"Liberation Serif","fontWeight":"normal","color":"#111"},
 "data":{"name":"d"},
 "mark":{"type":"line","strokeWidth":2.6},
 "encoding":{
  "x":{"field":"t","type":"quantitative","scale":{"domain":[0,80000],"nice":false,"zero":false},"axis":{"title":"Time/s","values":[0,10000,20000,30000,40000,50000,60000,70000,80000],"format":"d","labelFontSize":9,"labelPadding":10,"titleFontSize":13.5,"titlePadding":6}},
  "y":{"field":"V","type":"quantitative","scale":{"domain":[200,600],"nice":false,"zero":false},"axis":{"title":"Cell Voltage/mV","values":[200,250,300,350,400,450,500,550,600],"labelExpr":"datum.value%100==0 ? datum.label : ''","labelFontSize":9,"labelPadding":10.7,"titleFontSize":13.5,"titlePadding":10.5}},
  "color":{"field":"s","type":"nominal","scale":{"domain":["MnFe₂O₄","Fe₂O₃/Mn₂O₃"],"range":["#000000","#ff1a3c"]},"legend":{"orient":"none","legendX":203.8,"legendY":16.5,"title":null,"symbolType":"M-1.3,0H1.3","symbolSize":196,"symbolStrokeWidth":3,"labelFontSize":14,"labelOffset":5,"rowPadding":10.4}}
 }
}
 ]}
]
}
